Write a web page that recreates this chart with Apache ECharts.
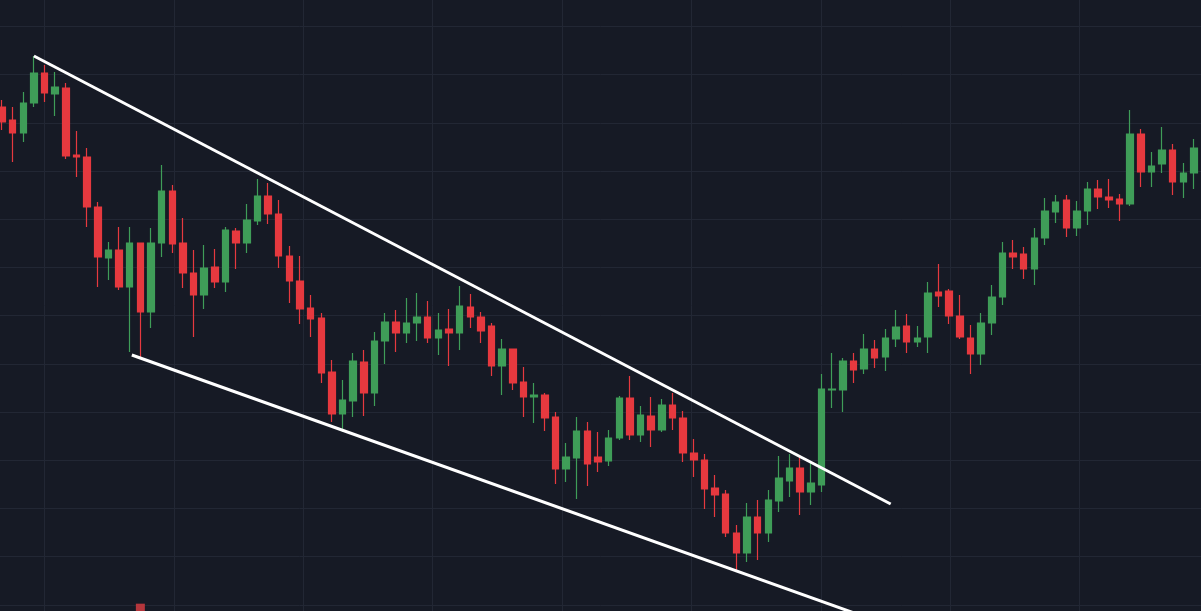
<!DOCTYPE html>
<html>
<head>
<meta charset="utf-8">
<title>Falling wedge breakout</title>
<script src="https://cdn.jsdelivr.net/npm/echarts@6/dist/echarts.min.js"></script>
<style>
  html, body { margin: 0; padding: 0; background: #161a25; }
  #chart { width: 1201px; height: 611px; }
</style>
</head>
<body>
<div id="chart"></div>
<script>
// candles: [open, close, low, high]
var candles = [
  [893, 878, 870, 900], [880, 867, 838, 893], [867, 897, 858, 908], [897, 927, 893, 944],
  [927, 907, 898, 935], [906, 913, 884, 928], [912, 844, 841, 917], [845, 843, 823, 869],
  [843, 793, 773, 852], [793, 743, 713, 798], [742, 750, 720, 758], [750, 713, 710, 773],
  [713, 757, 648, 773], [757, 688, 642, 757], [688, 757, 672, 772], [757, 809, 743, 835],
  [809, 756, 747, 815], [757, 727, 712, 782], [727, 705, 663, 750], [705, 732, 691, 755],
  [733, 718, 712, 751], [718, 770, 708, 773], [769, 757, 731, 772], [757, 780, 747, 796],
  [779, 804, 775, 821], [804, 786, 776, 817], [786, 744, 732, 800], [744, 719, 697, 754],
  [719, 691, 676, 744], [692, 681, 663, 705], [682, 627, 617, 687], [628, 586, 578, 640],
  [586, 600, 568, 620], [599, 639, 583, 647], [638, 607, 584, 650], [607, 659, 594, 668],
  [659, 678, 636, 687], [678, 667, 648, 690], [667, 677, 657, 702], [677, 683, 659, 707],
  [683, 662, 657, 699], [662, 670, 645, 687], [671, 667, 634, 691], [667, 694, 650, 714],
  [693, 683, 672, 706], [683, 669, 657, 688], [674, 634, 624, 677], [634, 651, 605, 661],
  [651, 617, 610, 651], [618, 603, 583, 633], [603, 605, 577, 617], [605, 582, 569, 607],
  [583, 531, 516, 588], [531, 543, 518, 557], [542, 569, 501, 583], [569, 536, 514, 578],
  [543, 538, 528, 568], [539, 562, 534, 570], [562, 602, 560, 604], [602, 565, 560, 624],
  [565, 585, 558, 594], [584, 570, 553, 603], [570, 595, 568, 601], [595, 582, 570, 607],
  [582, 547, 538, 589], [547, 540, 523, 561], [540, 511, 491, 546], [512, 505, 483, 525],
  [506, 467, 463, 510], [467, 447, 430, 475], [447, 483, 438, 497], [483, 467, 440, 500],
  [467, 500, 458, 510], [499, 522, 488, 544], [519, 532, 503, 546], [532, 508, 485, 543],
  [508, 517, 495, 539], [515, 611, 508, 626], [610, 611, 592, 647], [610, 639, 588, 642],
  [639, 630, 617, 647], [631, 651, 626, 666], [651, 642, 632, 660], [643, 662, 629, 671],
  [661, 673, 653, 690], [674, 658, 647, 686], [658, 662, 653, 674], [663, 707, 647, 718],
  [708, 704, 693, 736], [709, 684, 676, 711], [684, 663, 661, 705], [662, 646, 626, 675],
  [646, 677, 635, 687], [677, 703, 665, 715], [703, 747, 695, 758], [747, 743, 731, 760],
  [746, 731, 721, 753], [731, 762, 715, 772], [762, 789, 755, 802], [788, 798, 777, 805],
  [800, 772, 763, 805], [772, 789, 764, 799], [789, 811, 775, 818], [811, 803, 791, 820],
  [803, 800, 792, 821], [801, 796, 779, 806], [796, 866, 794, 890], [866, 828, 813, 871],
  [828, 834, 813, 848], [836, 850, 827, 873], [850, 818, 805, 856], [818, 827, 802, 837],
  [827, 852, 811, 861]
];
var categories = candles.map(function (c, i) { return String(i); });

// wedge trend lines: [candle index, price]
var upperTrend = [[3, 944], [83.5, 496]];
var lowerTrend = [[12.2, 645], [80.6, 385]];

// only bar tall enough to show at the bottom edge: [candle index, volume]
var volume = [[13, 1.2]];

var priceMin = 389, priceMax = 1000;
var green = '#3f9d58', red = '#e6393f';

var chart = echarts.init(document.getElementById('chart'));
chart.setOption({
  animation: false,
  backgroundColor: '#161a25',
  grid: [
    // background grid lines (larger than the canvas on purpose)
    { left: -85, top: -21.75, width: 1294, height: 674.8, outerBoundsMode: 'none', containLabel: false },
    // price area
    { left: 2, right: 7, top: 0, bottom: 0, outerBoundsMode: 'none', containLabel: false }
  ],
  xAxis: [
    {
      gridIndex: 0, type: 'value', min: 0, max: 10, interval: 1,
      axisLine: { show: false }, axisTick: { show: false }, axisLabel: { show: false },
      splitLine: { show: true, lineStyle: { color: '#222734', width: 1 } }
    },
    {
      gridIndex: 1, type: 'category', data: categories, boundaryGap: false,
      axisLine: { show: false }, axisTick: { show: false }, axisLabel: { show: false },
      splitLine: { show: false }
    },
    {
      gridIndex: 1, type: 'value', min: 0, max: candles.length - 1, show: false
    }
  ],
  yAxis: [
    {
      gridIndex: 0, type: 'value', min: 0, max: 14, interval: 1,
      axisLine: { show: false }, axisTick: { show: false }, axisLabel: { show: false },
      splitLine: { show: true, lineStyle: { color: '#222734', width: 1 } }
    },
    {
      gridIndex: 1, type: 'value', min: priceMin, max: priceMax, show: false,
      splitLine: { show: false }
    },
    {
      gridIndex: 1, type: 'value', min: 0, max: 100, show: false,
      splitLine: { show: false }
    }
  ],
  series: [
    {
      type: 'bar',
      xAxisIndex: 1,
      yAxisIndex: 2,
      data: volume,
      barWidth: 9,
      itemStyle: { color: '#b5363c' }
    },
    {
      type: 'candlestick',
      xAxisIndex: 1,
      yAxisIndex: 1,
      data: candles,
      barWidth: 7,
      clip: false,
      itemStyle: {
        color: green,
        color0: red,
        borderColor: green,
        borderColor0: red,
        borderWidth: 1.2
      }
    },
    {
      type: 'line',
      xAxisIndex: 2,
      yAxisIndex: 1,
      data: upperTrend,
      symbol: 'none',
      lineStyle: { color: '#ffffff', width: 3 }
    },
    {
      type: 'line',
      xAxisIndex: 2,
      yAxisIndex: 1,
      data: lowerTrend,
      symbol: 'none',
      lineStyle: { color: '#ffffff', width: 3 }
    }
  ]
});
</script>
</body>
</html>
